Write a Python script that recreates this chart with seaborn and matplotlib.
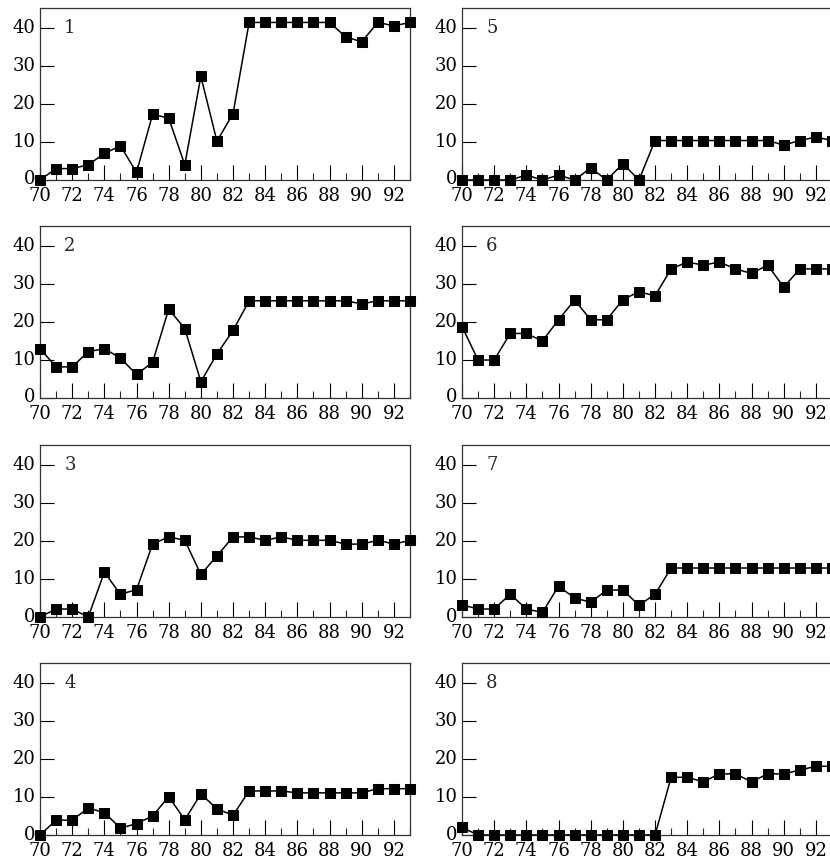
import numpy as np
import pandas as pd
import matplotlib
matplotlib.use("Agg")
import matplotlib.pyplot as plt
import matplotlib.transforms as mtransforms
from matplotlib.ticker import FixedLocator
import seaborn as sns

years = list(range(70, 94))

s1 = [0, 3, 3, 4, 7, 9, 2, 17.3, 16.3, 4, 27.3, 10.2, 17.5, 41.5, 41.5, 41.5, 41.5, 41.5, 41.5, 37.7, 36.4, 41.5, 40.6, 41.5]
s2 = [13, 8.2, 8.2, 12.2, 13, 10.5, 6.2, 9.4, 23.4, 18.3, 4.3, 11.6, 17.8, 25.6, 25.6, 25.6, 25.6, 25.6, 25.6, 25.6, 24.8, 25.6, 25.6, 25.6]
s3 = [0, 2.1, 2.1, 0, 11.8, 6, 7.2, 19.2, 21.1, 20.2, 11.2, 16.1, 21.1, 21.1, 20.2, 21.1, 20.2, 20.2, 20.2, 19.2, 19.2, 20.2, 19.2, 20.2]
s4 = [0, 3.9, 3.9, 7.1, 5.9, 1.8, 3, 5, 10.1, 4, 10.8, 6.9, 5.2, 11.6, 11.6, 11.6, 11.1, 11.1, 11.1, 11.1, 11.1, 12.2, 12.2, 12.2]
s5 = [0, 0, 0, 0, 1.3, 0, 1.3, 0, 3.2, 0, 4.3, 0, 10.4, 10.4, 10.4, 10.4, 10.4, 10.4, 10.4, 10.4, 9.2, 10.4, 11.3, 10.4]
s6 = [18.8, 10, 10, 17, 17, 15, 20.6, 25.8, 20.6, 20.6, 25.9, 28, 26.9, 34, 35.8, 35, 35.8, 34, 32.8, 35, 29.2, 34, 34, 34]
s7 = [3.2, 2.1, 2.1, 6, 2.1, 1.2, 8.1, 5, 3.9, 7.1, 7.1, 3.1, 6, 12.9, 12.9, 12.9, 12.9, 12.9, 12.9, 12.9, 12.9, 12.9, 12.9, 12.9]
s8 = [2, 0, 0, 0, 0, 0, 0, 0, 0, 0, 0, 0, 0, 15.2, 15.2, 14, 16.1, 16.1, 14, 16.1, 16.1, 17.1, 18.1, 18.1]

panel_labels = ["1", "2", "3", "4", "5", "6", "7", "8"]
series = [s1, s2, s3, s4, s5, s6, s7, s8]
yticks = [0, 10, 20, 30, 40]
xlabels = [str(v) for v in range(70, 93, 2)]

sns.set_style("white")
plt.rcParams["font.family"] = ["DejaVu Serif"]
plt.rcParams["font.size"] = 13

fig = plt.figure(figsize=(8.3, 8.61), dpi=100)

W, H = 830, 861
col_x = [40, 462]
row_bottom = [180, 398, 617, 835]
ax_w, ax_h = 370, 172
shift_up = mtransforms.ScaledTranslation(0, 0.025, fig.dpi_scale_trans)

for i, (lab, vals) in enumerate(zip(panel_labels, series)):
    col = i // 4
    row = i % 4
    left = col_x[col] / W
    bottom = 1 - row_bottom[row] / H
    ax = fig.add_axes([left, bottom, ax_w / W, ax_h / H])
    df = pd.DataFrame({"year": years, "value": vals})
    sns.lineplot(data=df, x="year", y="value", ax=ax, color="black",
                 marker="s", markersize=7.5, markeredgecolor="black",
                 markerfacecolor="black", linewidth=1.1, clip_on=False,
                 zorder=5)
    ax.set_xlim(70, 93)
    ax.set_ylim(0, 45.3)
    ax.set_xlabel("")
    ax.set_ylabel("")
    ax.xaxis.set_major_locator(FixedLocator(list(range(70, 93, 2))))
    ax.set_xticklabels(xlabels)
    ax.xaxis.set_minor_locator(FixedLocator(list(range(71, 94, 2))))
    ax.set_yticks(yticks)
    ax.set_yticklabels([str(v) for v in yticks])
    ax.tick_params(axis="x", which="major", direction="in", length=11,
                   width=0.8, pad=5, labelsize=13, colors="black",
                   bottom=True)
    ax.tick_params(axis="x", which="minor", direction="in", length=5,
                   width=0.8, bottom=True)
    ax.tick_params(axis="y", which="major", direction="in", length=10,
                   width=0.8, pad=3, labelsize=13, colors="black",
                   left=True)
    for sp in ax.spines.values():
        sp.set_visible(True)
        sp.set_color("#333333")
        sp.set_linewidth(0.9)
    for lbl in ax.get_yticklabels():
        lbl.set_transform(lbl.get_transform() + shift_up)
    ax.text(71.5, 40, lab, ha="left", va="center", fontsize=13)
    ax.grid(False)

fig.savefig("out.png", dpi=100)
